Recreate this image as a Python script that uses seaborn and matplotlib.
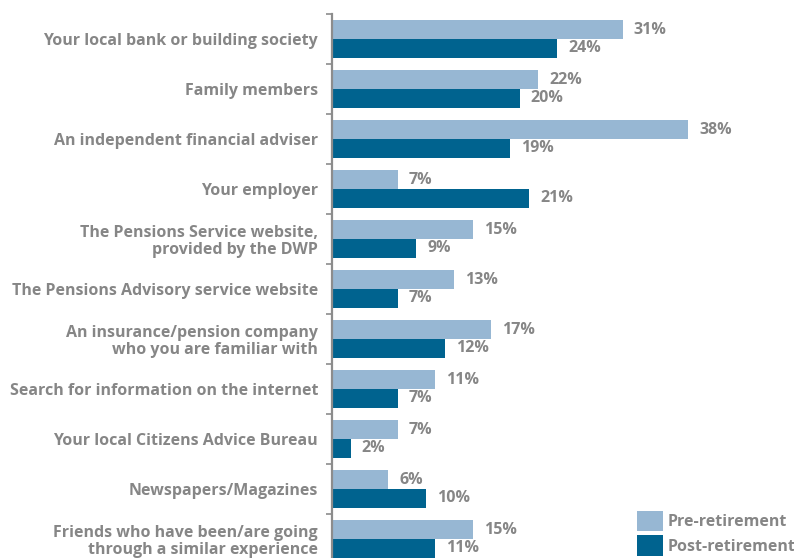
import matplotlib
matplotlib.use("Agg")
import matplotlib.pyplot as plt
from matplotlib.patches import Patch
import seaborn as sns
import pandas as pd

sources = [
    "Your local bank or building society",
    "Family members",
    "An independent financial adviser",
    "Your employer",
    "The Pensions Service website,\nprovided by the DWP",
    "The Pensions Advisory service website",
    "An insurance/pension company\nwho you are familiar with",
    "Search for information on the internet",
    "Your local Citizens Advice Bureau",
    "Newspapers/Magazines",
    "Friends who have been/are going\nthrough a similar experience",
]
pre_retirement = [31, 22, 38, 7, 15, 13, 17, 11, 7, 6, 15]
post_retirement = [24, 20, 19, 21, 9, 7, 12, 7, 2, 10, 11]
groups = ["Pre-retirement", "Post-retirement"]

PRE_COLOR = "#97b7d3"
POST_COLOR = "#00638f"
TEXT_COLOR = "#868686"
FONT_SIZE = 11.5

df = pd.DataFrame({
    "source": sources * 2,
    "share": pre_retirement + post_retirement,
    "group": [groups[0]] * len(sources) + [groups[1]] * len(sources),
})

sns.set_theme(style="white")
plt.rcParams["font.family"] = ["Open Sans", "DejaVu Sans"]

W, H = 794, 558
fig = plt.figure(figsize=(W / 100, H / 100), dpi=100)
# axes box in pixel terms: left spine at x=332, categories 50 px tall starting at y=14
left, top, bottom, right = 332, 14, 564, 332 + 49 * 9.375
ax = fig.add_axes([left / W, (H - bottom) / H, (right - left) / W, (bottom - top) / H])

sns.barplot(
    data=df, y="source", x="share", hue="group", order=sources, hue_order=groups,
    palette=[PRE_COLOR, POST_COLOR], width=0.75, orient="h", ax=ax, legend=False,
    saturation=1, edgecolor="none",
)

ax.set_xlim(0, 49)
ax.set_ylim(len(sources) - 0.5, -0.5)
ax.set_xlabel("")
ax.set_ylabel("")
ax.set_xticks([])

# category labels sit between boundary ticks
ax.set_yticks(range(len(sources)))
ax.set_yticklabels(sources, fontsize=FONT_SIZE, fontweight="bold", color=TEXT_COLOR,
                   linespacing=1.05)
ax.tick_params(axis="y", which="major", left=False, length=0, pad=10)
ax.set_yticks([i - 0.5 for i in range(len(sources) + 1)], minor=True)
ax.tick_params(axis="y", which="minor", left=True, length=4, width=1.2,
               color="#8c8c8c", direction="out")

for side in ["top", "right", "bottom"]:
    ax.spines[side].set_visible(False)
ax.spines["left"].set_color("#8c8c8c")
ax.spines["left"].set_linewidth(1.6)

for container in ax.containers:
    ax.bar_label(container, labels=[f"{v:.0f}%" for v in container.datavalues],
                 padding=8, fontsize=FONT_SIZE, fontweight="bold", color=TEXT_COLOR)

handles = [Patch(facecolor=PRE_COLOR, edgecolor="none"),
           Patch(facecolor=POST_COLOR, edgecolor="none")]
fig.legend(handles, groups, loc="lower left", bbox_to_anchor=(637 / W, 2 / H),
           frameon=False, prop={"weight": "bold", "size": FONT_SIZE},
           handlelength=1.6, handleheight=1.6, labelspacing=0.25,
           handletextpad=0.3, borderpad=0, borderaxespad=0, labelcolor=TEXT_COLOR)

fig.savefig("out.png", dpi=100)
